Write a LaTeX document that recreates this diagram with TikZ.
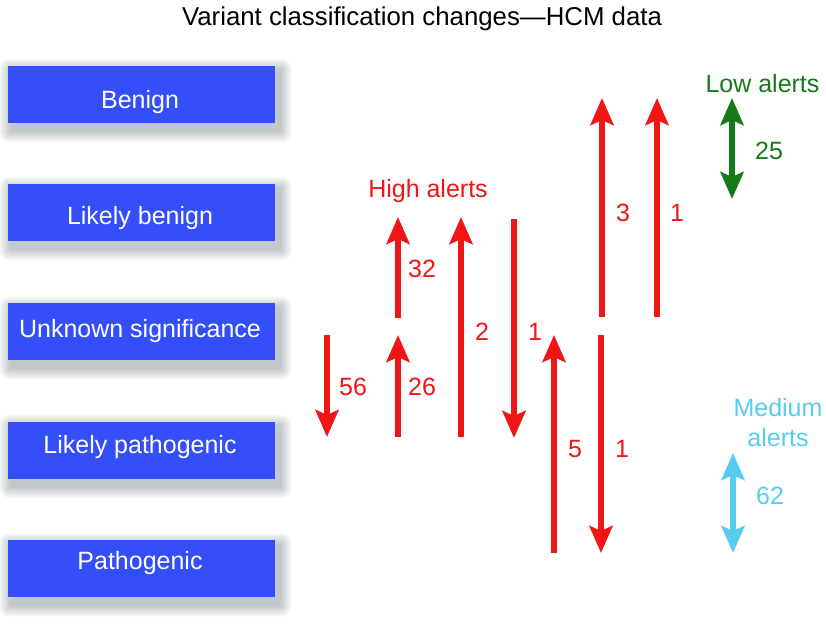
\documentclass[tikz,border=0pt]{standalone}
\usepackage{fontspec}
\setmainfont{Liberation Sans}
\usetikzlibrary{arrows.meta,backgrounds}
\definecolor{boxblue}{RGB}{52,78,250}
\definecolor{alertred}{RGB}{240,22,22}
\definecolor{lowgreen}{RGB}{22,122,26}
\definecolor{medcyan}{RGB}{88,204,240}
\definecolor{shadowcol}{RGB}{60,85,92}
\begin{document}
\begin{tikzpicture}[x=1pt,y=-1pt,
  catbox/.style={fill=boxblue, draw=none, minimum width=267pt, minimum height=57pt, inner sep=0pt},
  shadowlayer/.style={fill=shadowcol, fill opacity=0.045, draw=none},
  bigfont/.style={font=\fontsize{25}{30}\selectfont},
  cattext/.style={bigfont, text=white, anchor=base, inner sep=0pt},
  lbl/.style={bigfont, anchor=base, inner sep=0pt},
  redlbl/.style={lbl, text=alertred},
  redarrow/.style={draw=alertred, line width=5.5pt, -{Stealth[length=27pt,width=23pt,inset=5pt]}},
  greenarrow/.style={draw=lowgreen, line width=5.5pt, {Stealth[length=27pt,width=23pt,inset=5pt]}-{Stealth[length=27pt,width=23pt,inset=5pt]}},
  cyanarrow/.style={draw=medcyan, line width=5.5pt, {Stealth[length=27pt,width=23pt,inset=5pt]}-{Stealth[length=27pt,width=23pt,inset=5pt]}},
]
\useasboundingbox (0,0) rectangle (826,627);

% title
\node[lbl, font=\fontsize{25.8}{30}\selectfont] (title) at (422,25) {Variant classification changes—HCM data};

% category boxes
\node[catbox] (b1) at (141.5,94) {};
\node[catbox] (b2) at (141.5,212) {};
\node[catbox] (b3) at (141.5,331.5) {};
\node[catbox] (b4) at (141.5,450) {};
\node[catbox] (b5) at (141.5,568.5) {};
\node[cattext] (t1) at (140,108) {Benign};
\node[cattext] (t2) at (140,224) {Likely benign};
\node[cattext] (t3) at (140,337) {Unknown significance};
\node[cattext] (t4) at (140,453) {Likely pathogenic};
\node[cattext] (t5) at (140,569) {Pathogenic};

% soft shadows under the boxes
\begin{scope}[on background layer]
  \fill[white] (0,0) rectangle (826,627);
  \foreach \b in {b1,b2,b3,b4,b5}{
    \foreach \r in {0,1.5,...,10.5}{
      \fill[shadowlayer, rounded corners=\r pt]
        ([shift={({2-\r},{4-\r})}]\b.north west) rectangle ([shift={({6+\r},{9+\r})}]\b.south east);
    }
  }
\end{scope}

% high alerts
\node[redlbl] (high) at (428,197) {High alerts};

\coordinate (a56s) at (327,335); \coordinate (a56e) at (327,437);
\coordinate (a32s) at (398,318); \coordinate (a32e) at (398,217);
\coordinate (a26s) at (398,437); \coordinate (a26e) at (398,335);
\coordinate (a2s) at (461,437);  \coordinate (a2e) at (461,217);
\coordinate (a1s) at (514,219);  \coordinate (a1e) at (514,438);
\coordinate (a5s) at (554,553);  \coordinate (a5e) at (554,335);
\coordinate (b1s) at (601,335);  \coordinate (b1e) at (601,553);
\coordinate (a3s) at (602,317);  \coordinate (a3e) at (602,98);
\coordinate (c1s) at (657,317);  \coordinate (c1e) at (657,98);

\draw[redarrow] (a56s) -- (a56e);
\draw[redarrow] (a32s) -- (a32e);
\draw[redarrow] (a26s) -- (a26e);
\draw[redarrow] (a2s) -- (a2e);
\draw[redarrow] (a1s) -- (a1e);
\draw[redarrow] (a5s) -- (a5e);
\draw[redarrow] (b1s) -- (b1e);
\draw[redarrow] (a3s) -- (a3e);
\draw[redarrow] (c1s) -- (c1e);

\node[redlbl] (n56) at (353,395) {56};
\node[redlbl] (n32) at (422,277) {32};
\node[redlbl] (n26) at (422,395) {26};
\node[redlbl] (n2) at (482,340) {2};
\node[redlbl] (n1a) at (535,340) {1};
\node[redlbl] (n5) at (575,457) {5};
\node[redlbl] (n1b) at (622,457) {1};
\node[redlbl] (n3) at (623,221) {3};
\node[redlbl] (n1c) at (677,221) {1};

% low alerts
\node[lbl, text=lowgreen] (low) at (762.5,92) {Low alerts};
\coordinate (gs) at (732,98); \coordinate (ge) at (732,199);
\draw[greenarrow] (gs) -- (ge);
\node[lbl, text=lowgreen] (n25) at (769,159) {25};

% medium alerts
\node[bigfont, text=medcyan, align=center, inner sep=0pt] (med) at (778,423) {Medium\\alerts};
\coordinate (cs) at (733,453); \coordinate (ce) at (733,553);
\draw[cyanarrow] (cs) -- (ce);
\node[lbl, text=medcyan] (n62) at (770,504) {62};
\end{tikzpicture}
\end{document}
